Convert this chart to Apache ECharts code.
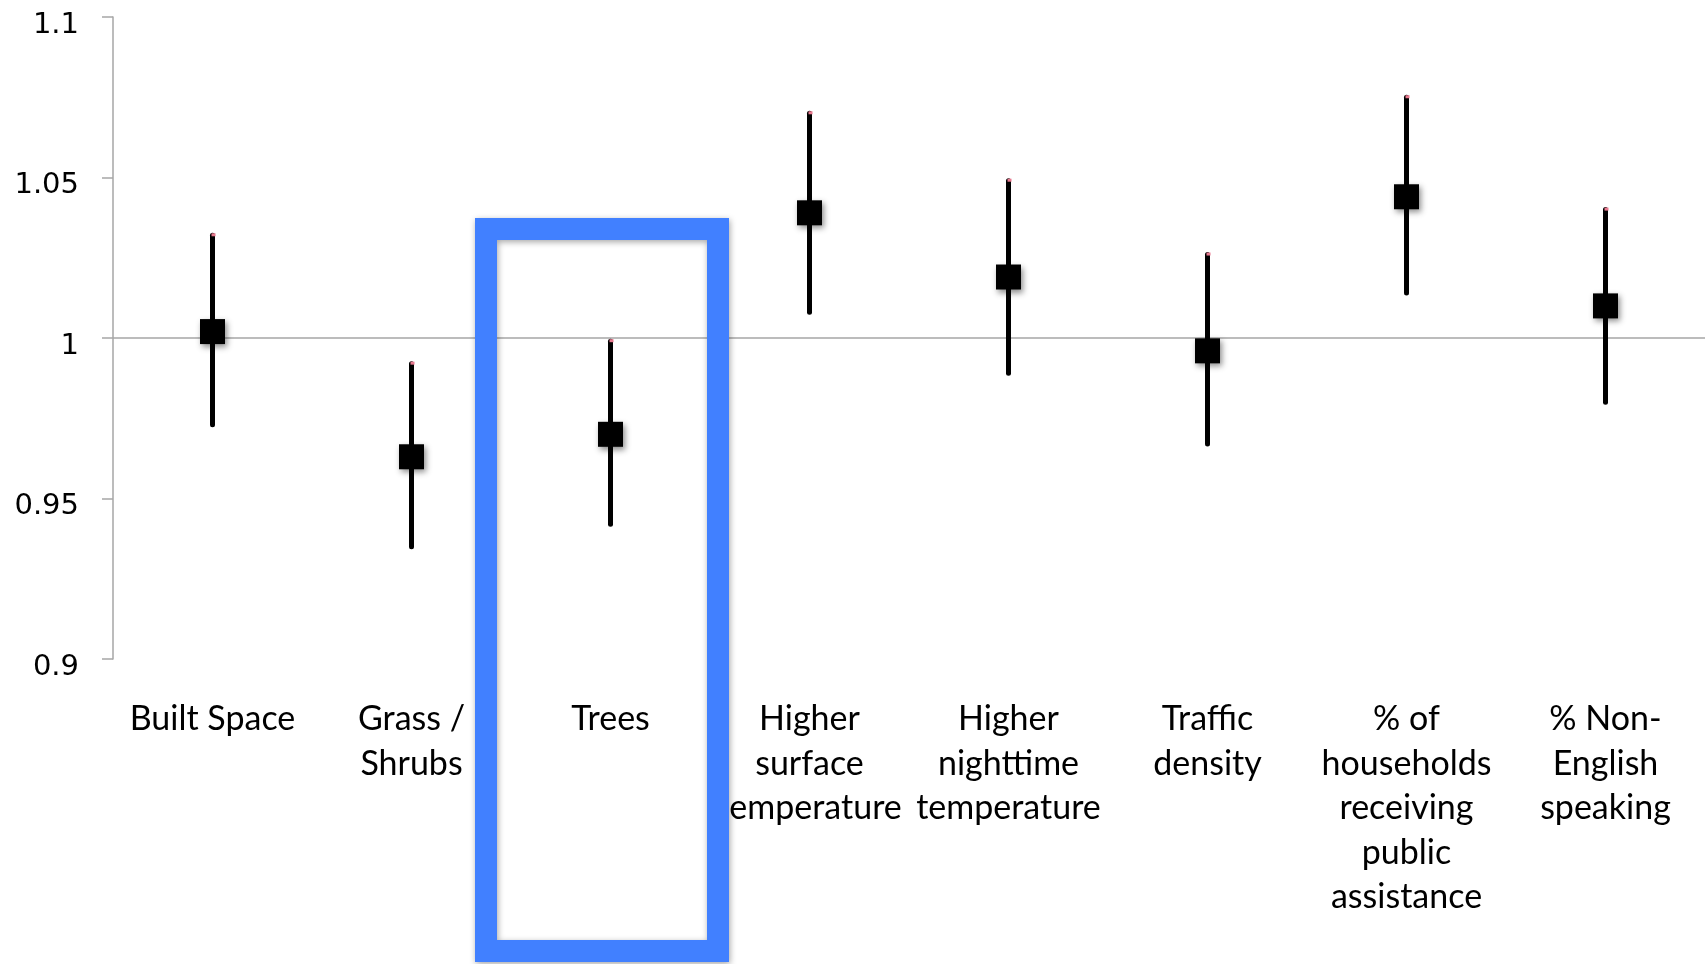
<!DOCTYPE html>
<html>
<head>
<meta charset="utf-8">
<script src="https://cdn.jsdelivr.net/npm/echarts@6/dist/echarts.min.js"></script>
<style>
  html, body { margin: 0; padding: 0; background: #fff; }
  #chart { width: 1705px; height: 964px; }
</style>
</head>
<body>
<div id="chart"></div>
<script>
// Odds ratios with confidence intervals for each exposure variable
const categories = [
  'Built Space',
  'Grass /\nShrubs',
  'Trees',
  'Higher\nsurface\ntemperature',
  'Higher\nnighttime\ntemperature',
  'Traffic\ndensity',
  '% of\nhouseholds\nreceiving\npublic\nassistance',
  '% Non-\nEnglish\nspeaking'
];
const estimates = [1.002, 0.963, 0.970, 1.039, 1.019, 0.996, 1.044, 1.010];
const lowerCI   = [0.973, 0.935, 0.942, 1.008, 0.989, 0.967, 1.014, 0.980];
const upperCI   = [1.032, 0.992, 0.999, 1.070, 1.049, 1.026, 1.075, 1.040];
const yTickLabels = ['0.9', '0.95', '1', '1.05', '1.1'];

const seriesData = categories.map((c, i) => [i, estimates[i], lowerCI[i], upperCI[i]]);

const chart = echarts.init(document.getElementById('chart'), null, { renderer: 'canvas' });

function renderInterval(params, api) {
  const idx = api.value(0);
  const mid = api.coord([idx, api.value(1)]);
  const lo = api.coord([idx, api.value(2)]);
  const hi = api.coord([idx, api.value(3)]);
  const size = 25;
  return {
    type: 'group',
    children: [
      {
        type: 'line',
        shape: { x1: hi[0], y1: hi[1], x2: lo[0], y2: lo[1] },
        style: { stroke: '#000', lineWidth: 5, lineCap: 'round' }
      },
      {
        type: 'rect',
        shape: { x: hi[0] - 1, y: hi[1] - 2, width: 4, height: 3 },
        style: { fill: '#e8798f' }
      },
      {
        type: 'rect',
        shape: { x: mid[0] - size / 2, y: mid[1] - size / 2, width: size, height: size },
        style: {
          fill: '#000',
          shadowBlur: 6,
          shadowColor: 'rgba(0,0,0,0.45)',
          shadowOffsetX: 2,
          shadowOffsetY: 3
        }
      }
    ]
  };
}

const option = {
  backgroundColor: '#ffffff',
  animation: false,
  grid: { left: 113, right: 0, top: 17, bottom: 305, containLabel: false },
  xAxis: {
    type: 'category',
    data: categories,
    boundaryGap: true,
    axisLine: { show: false },
    axisTick: { show: false },
    axisLabel: {
      interval: 0,
      margin: 38,
      color: '#000',
      fontFamily: 'Lato',
      fontSize: 34,
      lineHeight: 44.5,
      align: 'center'
    },
    splitLine: { show: false }
  },
  yAxis: {
    type: 'value',
    min: 0.9,
    max: 1.1,
    interval: 0.05,
    axisLine: { show: true, lineStyle: { color: '#a6a6a6', width: 1.5 } },
    axisTick: { show: true, length: 11, lineStyle: { color: '#a6a6a6', width: 1.5 } },
    splitLine: { show: false },
    axisLabel: {
      margin: 34,
      formatter: (v, i) => '{v|' + yTickLabels[i] + '}',
      rich: {
        v: {
          color: '#000',
          fontFamily: 'DejaVu Sans',
          fontSize: 29,
          padding: [16, 0, 0, 0]
        }
      }
    }
  },
  series: [
    {
      type: 'custom',
      renderItem: renderInterval,
      encode: { x: 0, y: [1, 2, 3] },
      data: seriesData,
      z: 3,
      markLine: {
        silent: true,
        symbol: 'none',
        label: { show: false },
        lineStyle: { color: '#a6a6a6', width: 1.5, type: 'solid' },
        data: [{ yAxis: 1 }],
        z: 1
      }
    }
  ],
  graphic: [
    {
      type: 'rect',
      z: 100,
      shape: { x: 486, y: 229, width: 232, height: 722 },
      style: {
        fill: 'none',
        stroke: '#4180ff',
        lineWidth: 22,
        shadowBlur: 6,
        shadowColor: 'rgba(0,0,0,0.35)',
        shadowOffsetX: 1,
        shadowOffsetY: 2
      }
    }
  ]
};

chart.setOption(option);
</script>
</body>
</html>
